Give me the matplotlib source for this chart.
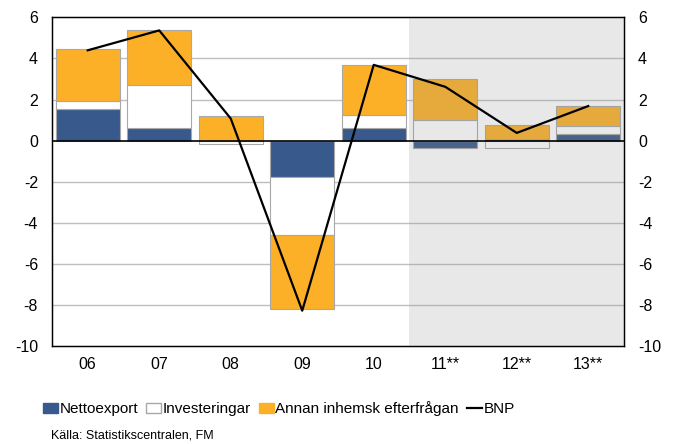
import numpy as np
import matplotlib.pyplot as plt
from matplotlib.patches import Patch
from matplotlib.lines import Line2D

plt.rcParams['font.family'] = ['Liberation Sans', 'DejaVu Sans']
plt.rcParams['axes.unicode_minus'] = False

years = ['06', '07', '08', '09', '10', '11**', '12**', '13**']
nettoexport = [1.55, 0.63, 0.0, -1.77, 0.63, -0.37, 0.06, 0.33]
investeringar = [0.40, 2.09, -0.16, -2.85, 0.62, 1.02, -0.36, 0.37]
annan = [2.49, 2.65, 1.20, -3.58, 2.44, 1.98, 0.72, 0.98]
bnp = [4.4, 5.37, 1.07, -8.3, 3.69, 2.62, 0.37, 1.68]

c_blue = '#38598B'
c_orange = '#FCB027'
c_edge = '#A8A8A8'

x = np.arange(len(years))
w = 0.9

fig = plt.figure(figsize=(6.77, 4.44), dpi=100)
ax = fig.add_axes([0.0768, 0.2218, 0.8449, 0.7388])

# stapla positiva och negativa delar var för sig
pos_base = np.zeros(len(years))
neg_base = np.zeros(len(years))
for vals, col in [(nettoexport, c_blue), (investeringar, 'white'), (annan, c_orange)]:
    vals = np.array(vals)
    bottom = np.where(vals >= 0, pos_base, neg_base)
    ax.bar(x, vals, w, bottom=bottom, color=col, edgecolor=c_edge, linewidth=0.8, zorder=2)
    pos_base = pos_base + np.clip(vals, 0, None)
    neg_base = neg_base + np.clip(vals, None, 0)

# prognosområde
ax.axvspan(4.5, 7.5, color='#909090', alpha=0.2, lw=0, zorder=3)

ax.plot(x, bnp, color='black', lw=1.6, zorder=4)
ax.axhline(0, color='black', lw=1.2, zorder=4)

ax.set_xlim(-0.5, 7.5)
ax.set_ylim(-10, 6)
ax.set_yticks(np.arange(-10, 7, 2))
for v in [-8, -6, -4, -2, 2, 4]:
    ax.axhline(v, color='#BFBFBF', lw=1.0, zorder=1)
ax.set_xticks(x)
ax.set_xticklabels(years, fontsize=11.5)
ax.tick_params(axis='x', length=0, pad=8)
ax.tick_params(axis='y', length=0, labelsize=11.5, pad=10)
for s in ax.spines.values():
    s.set_color('black')
    s.set_linewidth(1.0)

ax2 = ax.twinx()
ax2.set_ylim(-10, 6)
ax2.set_yticks(np.arange(-10, 7, 2))
ax2.tick_params(axis='y', length=0, labelsize=11.5, pad=10)

handles = [Patch(facecolor=c_blue, edgecolor=c_blue),
           Patch(facecolor='white', edgecolor=c_edge),
           Patch(facecolor=c_orange, edgecolor=c_orange),
           Line2D([], [], color='black', lw=1.6)]
labels = ['Nettoexport', 'Investeringar', 'Annan inhemsk efterfrågan', 'BNP']
fig.legend(handles, labels, loc='center left', bbox_to_anchor=(0.052, 0.079),
           ncol=4, frameon=False, fontsize=11, handlelength=1.0, handleheight=0.65,
           handletextpad=0.1, columnspacing=0.5, borderpad=0)

fig.text(0.075, 0.005, 'Källa: Statistikscentralen, FM', fontsize=9, va='bottom')

fig.savefig('out.png', dpi=100)
